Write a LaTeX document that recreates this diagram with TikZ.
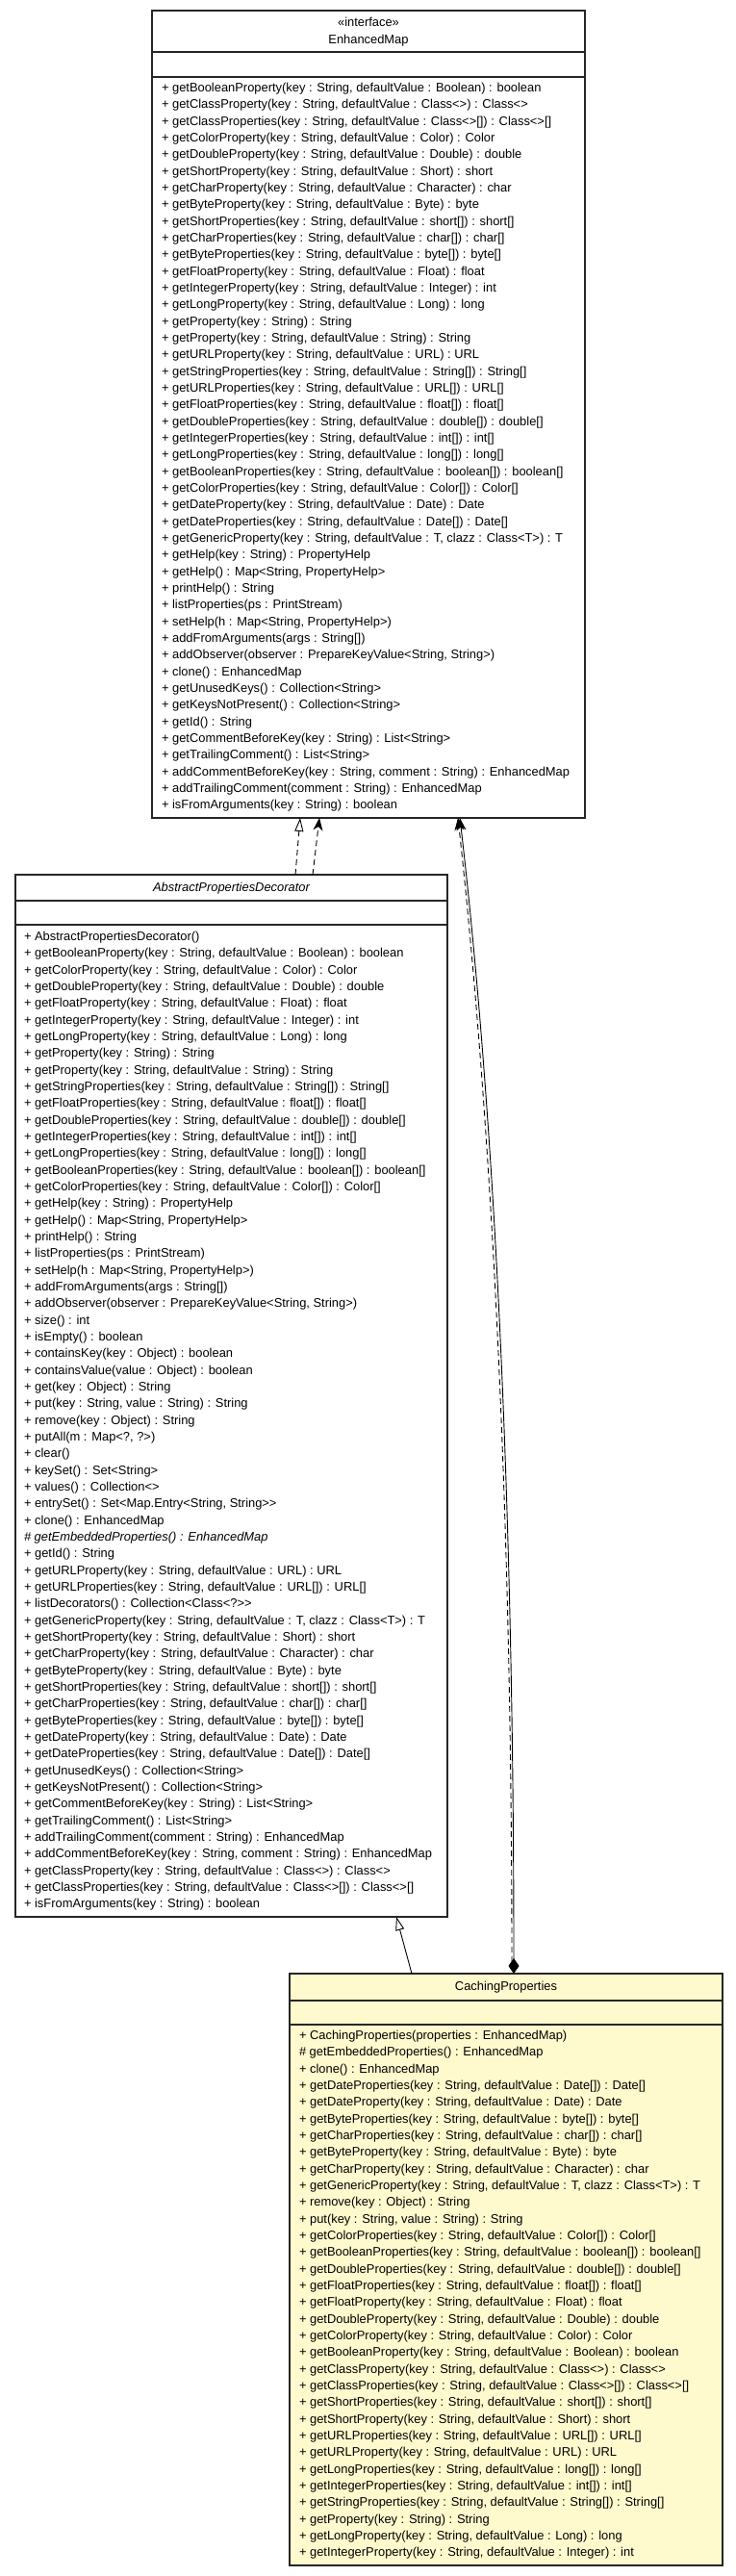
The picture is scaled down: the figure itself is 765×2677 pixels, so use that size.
\documentclass[tikz,border=0pt]{standalone}
\usepackage{fontspec}
\setmainfont{Liberation Sans}[Ligatures=TeXOff]
\usetikzlibrary{arrows.meta}
\definecolor{boxline}{HTML}{262626}
\definecolor{lemon}{HTML}{FFFACD}
\begin{document}
\begin{tikzpicture}[x=1pt,y=-1pt,
  umlbox/.style={draw=boxline, line width=1.1pt, inner sep=0pt, outer sep=0pt, anchor=north west, fill=white},
  member/.style={anchor=base west, inner sep=0pt, outer sep=0pt, font=\fontsize{12.9}{15}\selectfont},
  ctitle/.style={anchor=base, inner sep=0pt, outer sep=0pt, font=\fontsize{12.9}{15}\selectfont},
  divider/.style={draw=boxline, line width=1.1pt},
  conn/.style={draw=black, line width=0.9pt},
  dashedconn/.style={conn, dash pattern=on 6pt off 4pt},
  realtip/.style={-{Triangle[open, length=14pt, width=9pt, line width=0.9pt]}},
  deptip/.style={-{Stealth[length=13pt, width=10pt, inset=4pt]}},
  comptip/.style={{Diamond[length=16pt, width=11pt]}-{Stealth[length=13pt, width=10pt, inset=4pt]}}
]
\useasboundingbox (0,0) rectangle (765,2677);
\fill[white] (0,0) rectangle (765,2677);

% ---------- EnhancedMap ----------
\node[umlbox, minimum width=450pt, minimum height=839pt] (em) at (158,11) {};
\draw[divider] ([yshift=-43pt]em.north west) -- ([yshift=-43pt]em.north east);
\draw[divider] ([yshift=-69pt]em.north west) -- ([yshift=-69pt]em.north east);
\node[ctitle] (emstereo) at (383,27.5) {«interface»};
\node[ctitle] (emname) at (383,45.5) {EnhancedMap};
\foreach \mtext [count=\i] in {
{+ getBooleanProperty(key : String, defaultValue : Boolean) : boolean},
{+ getClassProperty(key : String, defaultValue : Class<>) : Class<>},
{+ getClassProperties(key : String, defaultValue : Class<>[]) : Class<>[]},
{+ getColorProperty(key : String, defaultValue : Color) : Color},
{+ getDoubleProperty(key : String, defaultValue : Double) : double},
{+ getShortProperty(key : String, defaultValue : Short) : short},
{+ getCharProperty(key : String, defaultValue : Character) : char},
{+ getByteProperty(key : String, defaultValue : Byte) : byte},
{+ getShortProperties(key : String, defaultValue : short[]) : short[]},
{+ getCharProperties(key : String, defaultValue : char[]) : char[]},
{+ getByteProperties(key : String, defaultValue : byte[]) : byte[]},
{+ getFloatProperty(key : String, defaultValue : Float) : float},
{+ getIntegerProperty(key : String, defaultValue : Integer) : int},
{+ getLongProperty(key : String, defaultValue : Long) : long},
{+ getProperty(key : String) : String},
{+ getProperty(key : String, defaultValue : String) : String},
{+ getURLProperty(key : String, defaultValue : URL) : URL},
{+ getStringProperties(key : String, defaultValue : String[]) : String[]},
{+ getURLProperties(key : String, defaultValue : URL[]) : URL[]},
{+ getFloatProperties(key : String, defaultValue : float[]) : float[]},
{+ getDoubleProperties(key : String, defaultValue : double[]) : double[]},
{+ getIntegerProperties(key : String, defaultValue : int[]) : int[]},
{+ getLongProperties(key : String, defaultValue : long[]) : long[]},
{+ getBooleanProperties(key : String, defaultValue : boolean[]) : boolean[]},
{+ getColorProperties(key : String, defaultValue : Color[]) : Color[]},
{+ getDateProperty(key : String, defaultValue : Date) : Date},
{+ getDateProperties(key : String, defaultValue : Date[]) : Date[]},
{+ getGenericProperty(key : String, defaultValue : T, clazz : Class<T>) : T},
{+ getHelp(key : String) : PropertyHelp},
{+ getHelp() : Map<String, PropertyHelp>},
{+ printHelp() : String},
{+ listProperties(ps : PrintStream)},
{+ setHelp(h : Map<String, PropertyHelp>)},
{+ addFromArguments(args : String[])},
{+ addObserver(observer : PrepareKeyValue<String, String>)},
{+ clone() : EnhancedMap},
{+ getUnusedKeys() : Collection<String>},
{+ getKeysNotPresent() : Collection<String>},
{+ getId() : String},
{+ getCommentBeforeKey(key : String) : List<String>},
{+ getTrailingComment() : List<String>},
{+ addCommentBeforeKey(key : String, comment : String) : EnhancedMap},
{+ addTrailingComment(comment : String) : EnhancedMap},
{+ isFromArguments(key : String) : boolean}}
{ \node[member] (em-\i) at (168,{95.5+17.33*(\i-1)}) {\mtext}; }

% ---------- AbstractPropertiesDecorator ----------
\node[umlbox, minimum width=449pt, minimum height=1083pt] (apd) at (16,909) {};
\draw[divider] ([yshift=-27pt]apd.north west) -- ([yshift=-27pt]apd.north east);
\draw[divider] ([yshift=-52pt]apd.north west) -- ([yshift=-52pt]apd.north east);
\node[ctitle] (apdname) at (240.5,926.5) {\itshape AbstractPropertiesDecorator};
\foreach \mtext [count=\i] in {
{+ AbstractPropertiesDecorator()},
{+ getBooleanProperty(key : String, defaultValue : Boolean) : boolean},
{+ getColorProperty(key : String, defaultValue : Color) : Color},
{+ getDoubleProperty(key : String, defaultValue : Double) : double},
{+ getFloatProperty(key : String, defaultValue : Float) : float},
{+ getIntegerProperty(key : String, defaultValue : Integer) : int},
{+ getLongProperty(key : String, defaultValue : Long) : long},
{+ getProperty(key : String) : String},
{+ getProperty(key : String, defaultValue : String) : String},
{+ getStringProperties(key : String, defaultValue : String[]) : String[]},
{+ getFloatProperties(key : String, defaultValue : float[]) : float[]},
{+ getDoubleProperties(key : String, defaultValue : double[]) : double[]},
{+ getIntegerProperties(key : String, defaultValue : int[]) : int[]},
{+ getLongProperties(key : String, defaultValue : long[]) : long[]},
{+ getBooleanProperties(key : String, defaultValue : boolean[]) : boolean[]},
{+ getColorProperties(key : String, defaultValue : Color[]) : Color[]},
{+ getHelp(key : String) : PropertyHelp},
{+ getHelp() : Map<String, PropertyHelp>},
{+ printHelp() : String},
{+ listProperties(ps : PrintStream)},
{+ setHelp(h : Map<String, PropertyHelp>)},
{+ addFromArguments(args : String[])},
{+ addObserver(observer : PrepareKeyValue<String, String>)},
{+ size() : int},
{+ isEmpty() : boolean},
{+ containsKey(key : Object) : boolean},
{+ containsValue(value : Object) : boolean},
{+ get(key : Object) : String},
{+ put(key : String, value : String) : String},
{+ remove(key : Object) : String},
{+ putAll(m : Map<?, ?>)},
{+ clear()},
{+ keySet() : Set<String>},
{+ values() : Collection<>},
{+ entrySet() : Set<Map.Entry<String, String>>},
{+ clone() : EnhancedMap},
{\itshape\# getEmbeddedProperties() : EnhancedMap},
{+ getId() : String},
{+ getURLProperty(key : String, defaultValue : URL) : URL},
{+ getURLProperties(key : String, defaultValue : URL[]) : URL[]},
{+ listDecorators() : Collection<Class<?>>},
{+ getGenericProperty(key : String, defaultValue : T, clazz : Class<T>) : T},
{+ getShortProperty(key : String, defaultValue : Short) : short},
{+ getCharProperty(key : String, defaultValue : Character) : char},
{+ getByteProperty(key : String, defaultValue : Byte) : byte},
{+ getShortProperties(key : String, defaultValue : short[]) : short[]},
{+ getCharProperties(key : String, defaultValue : char[]) : char[]},
{+ getByteProperties(key : String, defaultValue : byte[]) : byte[]},
{+ getDateProperty(key : String, defaultValue : Date) : Date},
{+ getDateProperties(key : String, defaultValue : Date[]) : Date[]},
{+ getUnusedKeys() : Collection<String>},
{+ getKeysNotPresent() : Collection<String>},
{+ getCommentBeforeKey(key : String) : List<String>},
{+ getTrailingComment() : List<String>},
{+ addTrailingComment(comment : String) : EnhancedMap},
{+ addCommentBeforeKey(key : String, comment : String) : EnhancedMap},
{+ getClassProperty(key : String, defaultValue : Class<>) : Class<>},
{+ getClassProperties(key : String, defaultValue : Class<>[]) : Class<>[]},
{+ isFromArguments(key : String) : boolean}}
{ \node[member] (apd-\i) at (25,{977.5+17.33*(\i-1)}) {\mtext}; }

% ---------- CachingProperties ----------
\node[umlbox, fill=lemon, minimum width=450pt, minimum height=615pt] (cp) at (301,2051) {};
\draw[divider] ([yshift=-28pt]cp.north west) -- ([yshift=-28pt]cp.north east);
\draw[divider] ([yshift=-53pt]cp.north west) -- ([yshift=-53pt]cp.north east);
\node[ctitle] (cpname) at (526,2068.5) {CachingProperties};
\foreach \mtext [count=\i] in {
{+ CachingProperties(properties : EnhancedMap)},
{\# getEmbeddedProperties() : EnhancedMap},
{+ clone() : EnhancedMap},
{+ getDateProperties(key : String, defaultValue : Date[]) : Date[]},
{+ getDateProperty(key : String, defaultValue : Date) : Date},
{+ getByteProperties(key : String, defaultValue : byte[]) : byte[]},
{+ getCharProperties(key : String, defaultValue : char[]) : char[]},
{+ getByteProperty(key : String, defaultValue : Byte) : byte},
{+ getCharProperty(key : String, defaultValue : Character) : char},
{+ getGenericProperty(key : String, defaultValue : T, clazz : Class<T>) : T},
{+ remove(key : Object) : String},
{+ put(key : String, value : String) : String},
{+ getColorProperties(key : String, defaultValue : Color[]) : Color[]},
{+ getBooleanProperties(key : String, defaultValue : boolean[]) : boolean[]},
{+ getDoubleProperties(key : String, defaultValue : double[]) : double[]},
{+ getFloatProperties(key : String, defaultValue : float[]) : float[]},
{+ getFloatProperty(key : String, defaultValue : Float) : float},
{+ getDoubleProperty(key : String, defaultValue : Double) : double},
{+ getColorProperty(key : String, defaultValue : Color) : Color},
{+ getBooleanProperty(key : String, defaultValue : Boolean) : boolean},
{+ getClassProperty(key : String, defaultValue : Class<>) : Class<>},
{+ getClassProperties(key : String, defaultValue : Class<>[]) : Class<>[]},
{+ getShortProperties(key : String, defaultValue : short[]) : short[]},
{+ getShortProperty(key : String, defaultValue : Short) : short},
{+ getURLProperties(key : String, defaultValue : URL[]) : URL[]},
{+ getURLProperty(key : String, defaultValue : URL) : URL},
{+ getLongProperties(key : String, defaultValue : long[]) : long[]},
{+ getIntegerProperties(key : String, defaultValue : int[]) : int[]},
{+ getStringProperties(key : String, defaultValue : String[]) : String[]},
{+ getProperty(key : String) : String},
{+ getLongProperty(key : String, defaultValue : Long) : long},
{+ getIntegerProperty(key : String, defaultValue : Integer) : int}}
{ \node[member] (cp-\i) at (311,{2119.5+17.33*(\i-1)}) {\mtext}; }

% ---------- connectors ----------
% realization: AbstractPropertiesDecorator implements EnhancedMap
\draw[dashedconn, realtip] ([xshift=291pt]apd.north west) -- ([xshift=154pt]em.south west);
% dependency: AbstractPropertiesDecorator uses EnhancedMap
\draw[dashedconn, deptip] ([xshift=309pt]apd.north west) -- ([xshift=174pt]em.south west);
% generalization: CachingProperties extends AbstractPropertiesDecorator
\draw[conn, realtip] ([xshift=127pt]cp.north west) -- ([xshift=396pt]apd.south west);
% dependency: CachingProperties uses EnhancedMap
\draw[dashedconn, deptip] ([xshift=231pt,yshift=12pt]cp.north west) .. controls +(0,-490) and +(33,300) .. ([xshift=318pt]em.south west);
% composition: CachingProperties has EnhancedMap
\draw[conn, comptip] ([xshift=233pt]cp.north west) .. controls +(0,-500) and +(35,300) .. ([xshift=320pt]em.south west);
\end{tikzpicture}
\end{document}
